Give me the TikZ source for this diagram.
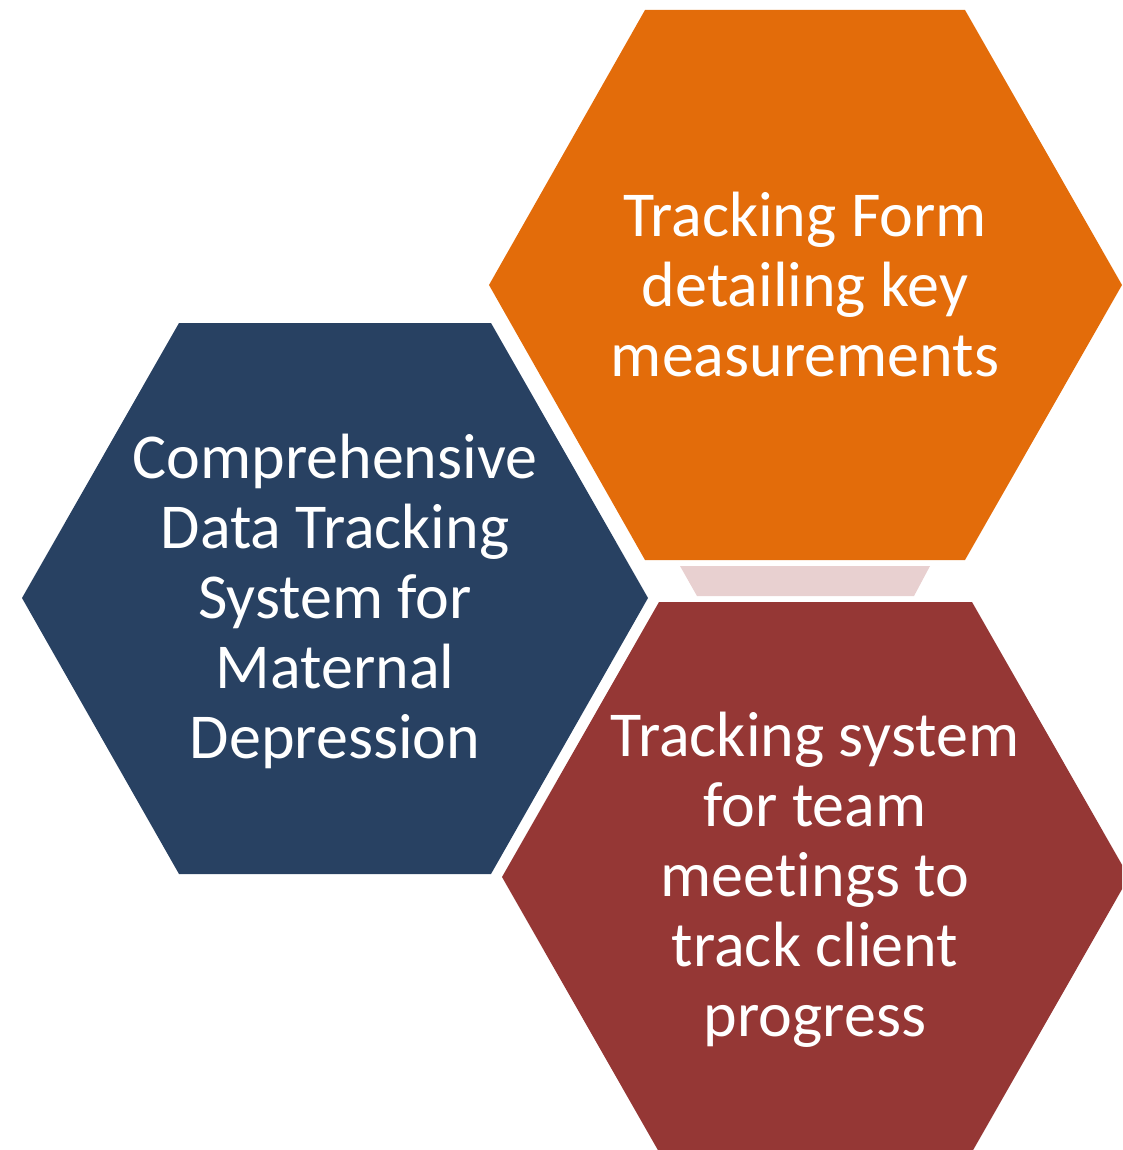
\documentclass[tikz,border=0pt]{standalone}
\usepackage{fontspec}
\setmainfont{Carlito}[Ligatures=NoCommon]
\definecolor{hexblue}{HTML}{284162}
\definecolor{hexorange}{HTML}{E36C0A}
\definecolor{hexred}{HTML}{953735}
\definecolor{linkpink}{HTML}{E8D0D0}
\begin{document}
\begin{tikzpicture}[x=1pt,y=-1pt,
  hexlabel/.style={text=white, align=center, inner sep=0pt,
    font=\fontsize{64}{70}\selectfont}]
\useasboundingbox (0,0) rectangle (1122,1150);
\clip (0,0) rectangle (1122,1150);
% left hexagon
\fill[hexblue] (22,598) -- (179,323) -- (491,323) -- (648,598) -- (491,874) -- (179,874) -- cycle;
% upper right hexagon
\fill[hexorange] (489,285) -- (645,10) -- (965,10) -- (1122,285) -- (965,560) -- (645,560) -- cycle;
% lower right hexagon
\fill[hexred] (502,877) -- (659,602) -- (972,602) -- (1129,877) -- (972,1152) -- (659,1152) -- cycle;
% link between the two right hexagons
\fill[linkpink] (680,566) -- (930,566) -- (914,596) -- (697,596) -- cycle;
% labels
\node[hexlabel] (main) at (335,601) {Comprehensive\\Data Tracking\\System for\\Maternal\\Depression};
\node[hexlabel] (form) at (805,285) {Tracking Form\\detailing key\\measurements};
\node[hexlabel] (team) at (815,880) {Tracking system\\for team\\meetings to\\track client\\progress};
\end{tikzpicture}
\end{document}
